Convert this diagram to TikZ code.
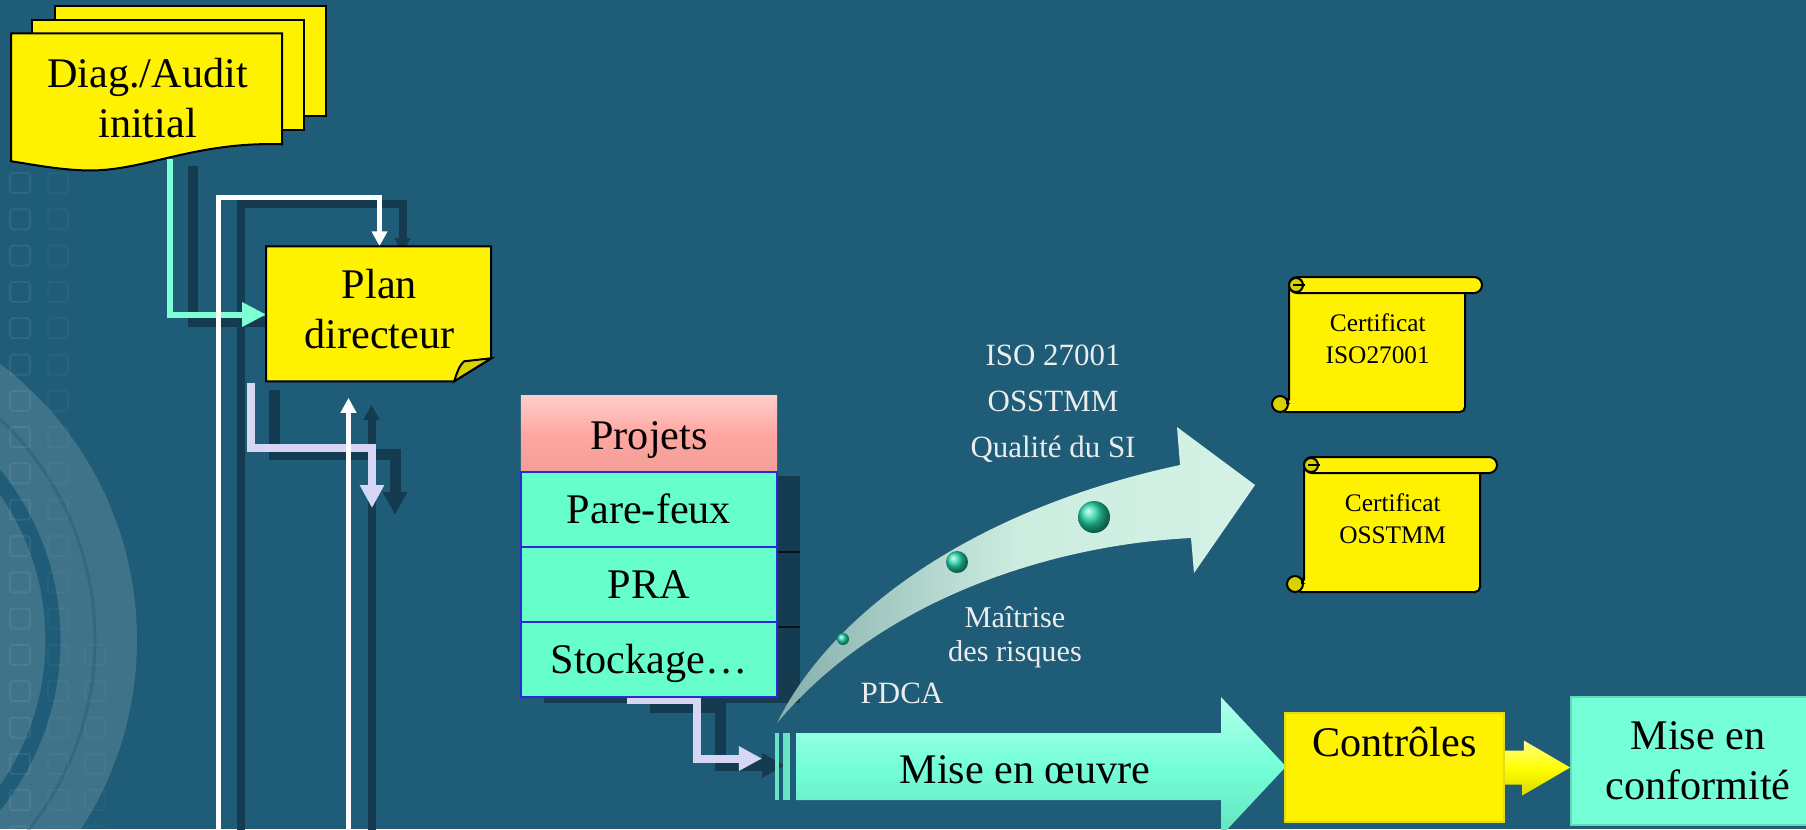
\documentclass[tikz,border=0pt]{standalone}
\usepackage{fontspec}
\setmainfont{Liberation Serif}
\usepackage{tikz}
\usetikzlibrary{arrows.meta, positioning, calc}

\definecolor{bgblue}{HTML}{1F5C77}
\definecolor{dropblue}{HTML}{143B4F}
\definecolor{mint}{HTML}{74FFD8}
\definecolor{rowmint}{HTML}{66FFCC}
\definecolor{rowblue}{HTML}{2A2AD8}
\definecolor{lav}{HTML}{D6D6F5}
\definecolor{aqua}{HTML}{7FFFD4}
\definecolor{salmon}{HTML}{FFA6A0}
\definecolor{fold}{HTML}{D9D200}
\definecolor{arctail}{HTML}{86AEAC}
\definecolor{arcmint}{HTML}{D4F3E6}
\definecolor{ballgreen}{HTML}{22D6A8}
\definecolor{softwhite}{HTML}{ECECEC}

\pgfdeclarelayer{bg}
\pgfdeclarelayer{back}
\pgfdeclarelayer{shapes}
\pgfsetlayers{bg,back,shapes,main}

\tikzset{
    sheettext/.style={
        font=\fontsize{12}{14.2}\selectfont,
        align=center,
        inner sep=0pt,
    },
    sheet/.style={
        fill=yellow,
        draw=black,
        line width=0.02cm,
    },
    projhead/.style={
        sheettext,
        minimum width=2.56cm,
        minimum height=0.76cm,
        outer sep=0pt,
        top color=salmon!55!white,
        bottom color=salmon!95!black,
        middle color=salmon,
        text height=9pt,
        text depth=0pt,
    },
    projrow/.style={
        sheettext,
        minimum width=2.55cm,
        minimum height=0.75cm,
        outer sep=0pt,
        fill=rowmint,
        draw=rowblue,
        line width=0.02cm,
        text height=7.9pt,
        text depth=0pt,
    },
    ctrlbox/.style={
        sheettext,
        minimum width=2.19cm,
        minimum height=1.09cm,
        fill=yellow,
        draw=yellow!88!black,
        line width=0.015cm,
        text height=8.5pt,
        text depth=14.5pt,
    },
    confbox/.style={
        sheettext,
        minimum width=2.54cm,
        minimum height=1.28cm,
        fill=mint,
        draw=mint!85!black,
        line width=0.015cm,
    },
    certbox/.style={
        font=\fontsize{7.2}{9.1}\selectfont,
        align=center,
        inner sep=0pt,
        minimum width=1.76cm,
        minimum height=1.21cm,
    },
    arctext/.style={
        text=softwhite,
        align=center,
        inner sep=0pt,
        font=\fontsize{8.8}{13.1}\selectfont,
    },
    tile/.style={
        draw=white,
        opacity=0.07,
        line width=0.02cm,
        rounded corners=0.03cm,
    },
    cyanln/.style={draw=aqua, line width=0.06cm, -{Triangle[width=0.23cm,length=0.24cm]}},
    whiteln/.style={draw=white, line width=0.05cm, -{Triangle[width=0.15cm,length=0.15cm]}},
    lavln/.style={draw=lav, line width=0.08cm, -{Triangle[width=0.23cm,length=0.23cm]}},
    drop/.style={draw=dropblue, transform canvas={shift={(0.23cm,-0.07cm)}}},
    scrollline/.style={draw=black, line width=0.02cm},
}

% scroll drawn round a certificate node
\newcommand{\certscroll}[1]{%
    \begin{scope}[shift={(#1.north west)}]
        \draw[scrollline, fill=yellow, rounded corners=0.05cm] (0,8) -- (176,8) -- (176,135) -- (-8,135) -- (-8,127) -- (0,127) -- cycle;
        \draw[scrollline, fill=yellow, rounded corners=0.08cm] (0,0) rectangle (193,16);
        \draw[scrollline, fill=fold] (7,8) circle[radius=7];
        \draw[scrollline] (4,8) -- (16,8);
        \draw[scrollline, fill=fold] (-9,127) circle[radius=8];
        \draw[scrollline] (-2,127) -- (-2,121);
    \end{scope}}

\begin{document}
\begin{tikzpicture}[x=0.01cm, y=-0.01cm]
    \useasboundingbox (0,0) rectangle (1806,829);

    % backdrop: rings and tiles on the left
    \begin{pgfonlayer}{bg}
        \fill[bgblue] (0,0) rectangle (1806,829);
        \begin{scope}
            \clip (0,0) rectangle (1806,829);
            \fill[white, opacity=0.14] (-210,640) circle[radius=347];
            \draw[bgblue, opacity=0.4, line width=0.03cm] (-210,640) circle[radius=305];
            \draw[bgblue, line width=0.15cm] (-210,640) circle[radius=263];
            \foreach \k in {0,...,18} {
                \draw[tile] (20,183+36.3*\k) +(-10,-10) rectangle +(10,10);
                \draw[tile, opacity=0.04] (58,183+36.3*\k) +(-10,-10) rectangle +(10,10);
            }
            \foreach \k in {13,...,18}
                \draw[tile, opacity=0.03] (95,183+36.3*\k) +(-10,-10) rectangle +(10,10);
        \end{scope}
    \end{pgfonlayer}

    \node[sheettext, minimum width=2.71cm, minimum height=1.28cm] (diag) at (147.5,98) {Diag./Audit\\initial};
    \node[sheettext, minimum width=2.25cm, minimum height=1.25cm] (plan) at (379.5,309.5) {Plan\\directeur};

    \node[projhead] (prj) at (649,434) {Projets};
    \node[projrow, below=0pt of prj] (pf) {Pare-feux};
    \node[projrow, below=0pt of pf] (pra) {PRA};
    \node[projrow, below=0pt of pra] (stock) {Stockage…};

    \node[sheettext, minimum width=4.58cm, minimum height=0.67cm, text height=9.4pt, text depth=0pt] (mise) at (1025,766.5) {Mise en œuvre};
    \node[ctrlbox] (ctrl) at (1394.5,767.5) {Contrôles};
    \node[confbox] (conf) at (1698,761) {Mise en\\conformité};

    \node[certbox, anchor=north west] (cert1) at (1289,277) {Certificat\\ISO27001};
    \node[certbox, anchor=north west] (cert2) at (1304,457) {Certificat\\OSSTMM};

    \node[arctext] (norms) at (1053,404) {ISO 27001\\OSSTMM\\Qualité du SI};
    \node[arctext, font=\fontsize{8.6}{9.7}\selectfont] (risk) at (1015,637) {Maîtrise\\des risques};
    \node[arctext] (pdca) at (902,693) {PDCA};

    \coordinate (wtop) at (218,835);
    \coordinate (wbot) at (348.5,835);
    \coordinate (lvend) at (372,508);
    \coordinate (miseIn) at ([shift={(-263,-8)}]mise.center);

    \begin{pgfonlayer}{shapes}
        \begin{scope}[shift={(diag.north west)}]
            \draw[sheet] (44,-27) rectangle (315,83);
            \draw[sheet] (21,-13) rectangle (293,97);
            \draw[sheet] (0,0) -- (271,0) -- (271,111) .. controls (180,108) and (130,140) .. (71,137) .. controls (45,136) and (20,131) .. (0,128) -- cycle;
        \end{scope}
        \begin{scope}[shift={(plan.north west)}]
            \draw[sheet] (0,0) -- (225,0) -- (225,112) -- (188,135) -- (0,135) -- cycle;
            \draw[sheet, fill=fold] (188,135) .. controls (191,125) and (194,118) .. (198,115) -- (225,112) -- cycle;
        \end{scope}

        \begin{scope}[shift={(mise.center)}]
            \shade[top color=mint!55!white, bottom color=mint!88!black, middle color=mint]
                (-229,-33.5) -- (196,-33.5) -- (196,-69.5) -- (261,0) -- (196,69.5) -- (196,33.5) -- (-229,33.5) -- cycle;
            \fill[mint!90!black] (-250,-33.5) rectangle (-246,33.5);
            \fill[mint!90!black] (-242,-33.5) rectangle (-235,33.5);
        \end{scope}

        \shade[left color=arctail, right color=arcmint, middle color=arcmint!90!arctail]
            (777,723) .. controls (830,615) and (970,510) .. (1180,465) -- (1177,427) -- (1255,485) -- (1194,573) -- (1191,538)
            .. controls (1050,545) and (880,600) .. (777,723) -- cycle;
        \shade[ball color=ballgreen] (843,639) circle[radius=6];
        \shade[ball color=ballgreen] (957,562) circle[radius=11];
        \shade[ball color=ballgreen] (1094,517) circle[radius=16];

        \certscroll{cert1}
        \certscroll{cert2}
    \end{pgfonlayer}

    \begin{pgfonlayer}{back}
        \fill[dropblue] ([shift={(23,4)}]pf.north west) rectangle ([shift={(23,6)}]stock.south east);
        \draw[black!70!dropblue, line width=0.02cm] ([shift={(23,5)}]pf.south west) -- ([shift={(23,5)}]pf.south east);
        \draw[black!70!dropblue, line width=0.02cm] ([shift={(23,5)}]pra.south west) -- ([shift={(23,5)}]pra.south east);

        \draw[cyanln, drop, line width=0.1cm] ([shift={(22,-4)}]diag.south) |- ([shift={(0,5)}]plan.west);
        \draw[whiteln, drop, line width=0.08cm] (wtop) -- ++(0,-638) -| (plan.north);
        \draw[lavln, drop, line width=0.11cm] ([shift={(-15,10)}]plan.south west) -- ++(0,65) -| (lvend);
        \draw[whiteln, drop, line width=0.08cm] (wbot) -- ([shift={(-31,25)}]plan.south);
        \draw[lavln, drop, line width=0.11cm] ([shift={(-22,3)}]stock.south) -- ++(70,0) |- (miseIn);

        \draw[cyanln] ([shift={(22,-4)}]diag.south) |- ([shift={(0,5)}]plan.west);
        \draw[whiteln] (wtop) -- ++(0,-638) -| (plan.north);
        \draw[lavln] ([shift={(-15,10)}]plan.south west) -- ++(0,65) -| (lvend);
        \draw[whiteln] (wbot) -- ([shift={(-31,25)}]plan.south);
        \draw[lavln] ([shift={(-22,3)}]stock.south) -- ++(70,0) |- (miseIn);

        \shade[top color=yellow!45!white, bottom color=yellow!85!black, middle color=yellow]
            (ctrl.east) +(0,-17) -- +(19,-17) -- +(19,-27) -- (ctrl.east -| conf.west) -- +(-48,28) -- +(-48,17) -- +(-67,17) -- cycle;
    \end{pgfonlayer}
\end{tikzpicture}
\end{document}
